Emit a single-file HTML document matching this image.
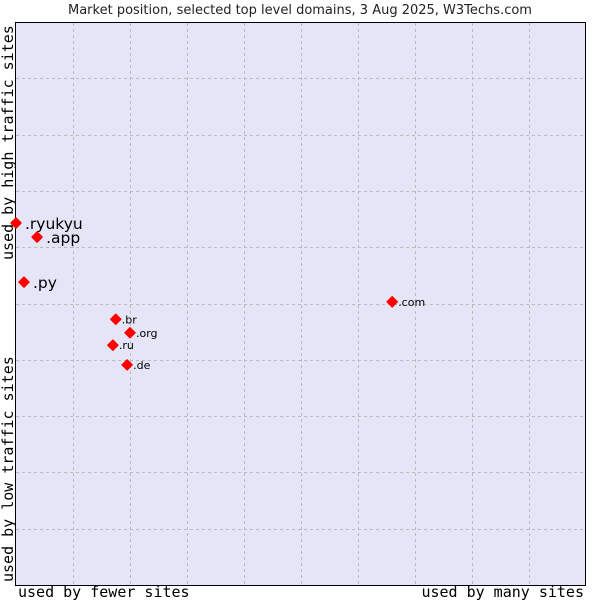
<!DOCTYPE html>
<html><head><meta charset="utf-8"><style>
body{margin:0;background:#fff;}
svg{display:block;}
</style></head><body>
<svg width="600" height="600" xmlns="http://www.w3.org/2000/svg">
<text x="300" y="14" text-anchor="middle" font-family="DejaVu Sans, sans-serif" font-size="13" fill="#222">Market position, selected top level domains, 3 Aug 2025, W3Techs.com</text>
<rect x="15.5" y="22.5" width="570" height="563" fill="#e4e6f8" stroke="#000" stroke-width="1"/>
<g id="grid"></g>
<g id="marks"></g>
<text x="18" y="597" font-family="DejaVu Sans Mono, monospace" font-size="15">used by fewer sites</text>
<text x="584" y="597" text-anchor="end" font-family="DejaVu Sans Mono, monospace" font-size="15">used by many sites</text>
<text transform="translate(13,260) rotate(-90)" font-family="DejaVu Sans Mono, monospace" font-size="15">used by high traffic sites</text>
<text transform="translate(13,582) rotate(-90)" font-family="DejaVu Sans Mono, monospace" font-size="15">used by low traffic sites</text>
</svg>
<script>
const domains = [".ryukyu", ".app", ".py", ".com", ".br", ".org", ".ru", ".de"];
const xValues = [0, 3.7, 1.4, 66, 17.5, 20, 17, 19.5];
const yValues = [64.3, 61.8, 53.8, 50.3, 47.2, 44.8, 42.6, 39.1];
const bigLabel = [true, true, true, false, false, false, false, false];
const NS = "http://www.w3.org/2000/svg";
const L = 16, T = 22, W = 570, H = 563;
const xs = v => L + v / 100 * W;
const ys = v => T + H - v / 100 * H;
const grid = document.getElementById('grid');
for (let i = 1; i < 10; i++) {
  const vl = document.createElementNS(NS, 'line');
  vl.setAttribute('x1', Math.round(xs(i * 10)) + 0.5); vl.setAttribute('x2', Math.round(xs(i * 10)) + 0.5);
  vl.setAttribute('y1', T + 1); vl.setAttribute('y2', T + H);
  vl.setAttribute('stroke', '#bbb'); vl.setAttribute('stroke-dasharray', '3,3');
  
  
  grid.appendChild(vl);
  const hl = document.createElementNS(NS, 'line');
  hl.setAttribute('y1', Math.round(ys(i * 10)) + 0.5); hl.setAttribute('y2', Math.round(ys(i * 10)) + 0.5);
  hl.setAttribute('x1', L); hl.setAttribute('x2', L + W);
  hl.setAttribute('stroke', '#bbb'); hl.setAttribute('stroke-dasharray', '3,3');
  
  
  grid.appendChild(hl);
}
const marks = document.getElementById('marks');
domains.forEach((d, i) => {
  const x = xs(xValues[i]), y = ys(yValues[i]);
  const p = document.createElementNS(NS, 'polygon');
  p.setAttribute('points', `${x},${y-5} ${x+5},${y} ${x},${y+5} ${x-5},${y}`);
  p.setAttribute('fill', '#f00');
  p.setAttribute('stroke', '#f00');
  p.setAttribute('stroke-width', '1.5');
  p.setAttribute('stroke-linejoin', 'round');
  
  
  marks.appendChild(p);
  const t = document.createElementNS(NS, 'text');
  t.setAttribute('x', x + (bigLabel[i] ? 9 : 6));
  t.setAttribute('y', y + (bigLabel[i] ? 6 : 4));
  t.setAttribute('font-family', 'DejaVu Sans, sans-serif');
  t.setAttribute('font-size', bigLabel[i] ? 15.5 : 11);
  t.setAttribute('fill', '#000');
  t.textContent = d;
  
  
  marks.appendChild(t);
});
</script>
</body></html>
